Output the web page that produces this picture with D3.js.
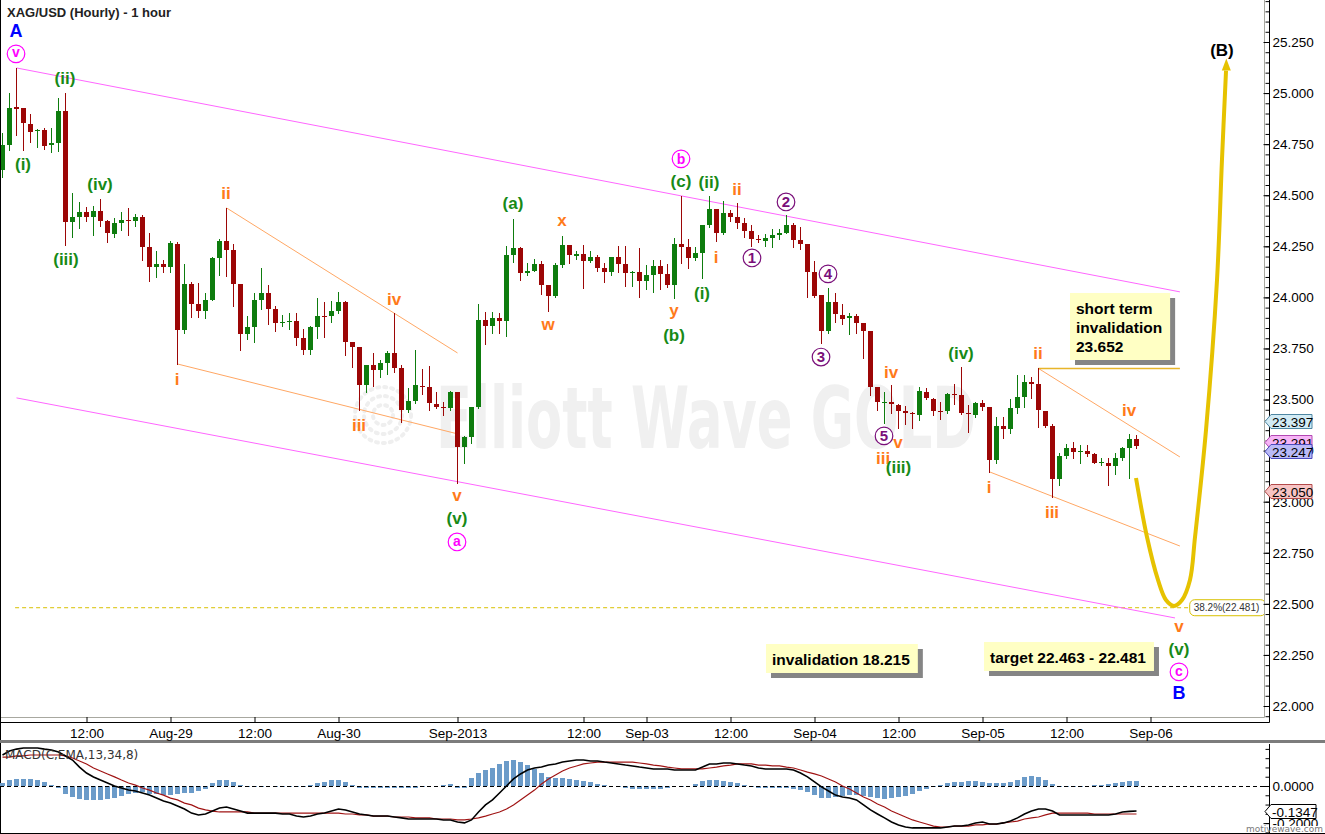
<!DOCTYPE html>
<html>
<head>
<meta charset="utf-8">
<title>XAG/USD (Hourly) - 1 hour</title>
<script src="https://cdnjs.cloudflare.com/ajax/libs/d3/7.8.5/d3.min.js"></script>
<style>
html,body{margin:0;padding:0;background:#ffffff;overflow:hidden;}
svg{display:block;font-family:"Liberation Sans",Arial,sans-serif;}
</style>
</head>
<body>
<svg id="chart" width="1325" height="834"></svg>
<script>
// ---------------- DATA ----------------
const titleText = "XAG/USD (Hourly) - 1 hour";
const macdTitle = "MACD(C,EMA,13,34,8)";
const watermarkText = "Elliott Wave GOLD";

// time axis: bar index of each labelled tick
const tickBars = [12, 24, 36, 48, 65, 83, 92, 104, 116, 128, 140, 152, 164];
const tickLabels = ["12:00","Aug-29","12:00","Aug-30","Sep-2013","12:00","Sep-03","12:00","Sep-04","12:00","Sep-05","12:00","Sep-06"];

const priceTicks = [22.0, 22.25, 22.5, 22.75, 23.0, 23.25, 23.5, 23.75, 24.0, 24.25, 24.5, 24.75, 25.0, 25.25];
const macdTicks = [0, -0.2];

// hourly OHLC (bar 0 = Aug-28 00:00)
const open = [
24.624,24.746,24.932,24.927,24.849,24.815,24.820,24.746,24.756,24.913,
24.369,24.394,24.418,24.394,24.423,24.374,24.311,24.364,24.379,24.374,
24.394,24.247,24.149,24.164,24.149,24.262,23.841,24.066,23.968,23.934,
23.988,24.193,24.276,24.232,24.066,23.821,23.855,23.988,24.022,23.943,
23.875,23.880,23.885,23.802,23.743,23.855,23.909,23.909,23.934,23.978,
23.782,23.757,23.571,23.669,23.645,23.679,23.728,23.655,23.449,23.493,
23.567,23.562,23.478,23.464,23.459,23.537,23.268,23.317,23.464,23.890,
23.860,23.899,23.885,24.208,24.242,24.120,24.130,24.164,24.061,24.007,
24.159,24.257,24.203,24.213,24.178,24.198,24.144,24.125,24.198,24.164,
24.120,24.125,24.081,24.110,24.154,24.115,24.061,24.262,24.247,24.193,
24.218,24.355,24.433,24.316,24.413,24.394,24.364,24.325,24.286,24.276,
24.291,24.306,24.316,24.355,24.281,24.262,24.125,24.012,23.836,23.978,
23.914,23.899,23.909,23.875,23.836,23.562,23.483,23.488,23.474,23.444,
23.434,23.425,23.537,23.503,23.444,23.444,23.527,23.523,23.434,23.425,
23.483,23.464,23.204,23.371,23.356,23.459,23.513,23.586,23.576,23.444,
23.371,23.111,23.224,23.263,23.244,23.248,23.234,23.190,23.190,23.175,
23.214,23.263,23.307];
const high = [
24.805,25.001,25.123,24.927,24.898,24.825,24.829,24.829,24.976,25.001,
24.511,24.467,24.443,24.448,24.482,24.379,24.389,24.418,24.438,24.409,
24.404,24.316,24.227,24.183,24.276,24.271,24.164,24.076,24.071,24.022,
24.198,24.286,24.438,24.262,24.066,23.909,24.022,24.144,24.061,23.958,
23.914,23.924,23.924,23.846,23.860,23.997,23.978,23.983,24.027,23.983,
23.782,23.757,23.669,23.728,23.694,23.738,23.924,23.669,23.557,23.743,
23.650,23.664,23.537,23.488,23.542,23.537,23.322,23.464,23.968,23.929,
23.929,23.924,24.252,24.384,24.247,24.169,24.188,24.178,24.061,24.169,
24.301,24.257,24.227,24.257,24.227,24.208,24.169,24.198,24.252,24.252,
24.130,24.242,24.159,24.183,24.183,24.164,24.291,24.497,24.286,24.247,
24.355,24.497,24.433,24.472,24.428,24.462,24.389,24.355,24.306,24.311,
24.335,24.335,24.404,24.364,24.345,24.262,24.178,24.012,24.046,24.022,
23.968,23.924,23.919,23.875,23.836,23.562,23.537,23.571,23.478,23.469,
23.439,23.562,23.557,23.508,23.488,23.532,23.576,23.660,23.474,23.488,
23.498,23.464,23.415,23.415,23.503,23.620,23.620,23.611,23.652,23.444,
23.381,23.239,23.283,23.292,23.278,23.278,23.239,23.214,23.214,23.239,
23.268,23.332,23.327];
const low = [
24.590,24.722,24.795,24.722,24.761,24.736,24.727,24.712,24.717,24.257,
24.296,24.340,24.374,24.306,24.350,24.271,24.296,24.330,24.306,24.350,
24.183,24.081,24.100,24.125,24.125,23.674,23.826,23.904,23.904,23.899,
23.988,24.110,24.105,23.958,23.743,23.797,23.782,23.943,23.870,23.836,
23.860,23.846,23.767,23.723,23.723,23.802,23.806,23.880,23.924,23.718,
23.660,23.449,23.537,23.567,23.611,23.625,23.635,23.390,23.439,23.483,
23.527,23.449,23.459,23.425,23.449,23.092,23.190,23.288,23.459,23.772,
23.826,23.826,23.811,24.174,24.085,24.110,24.130,24.017,23.934,24.002,
24.149,24.169,24.188,24.046,24.174,24.130,24.076,24.110,24.125,24.056,
24.056,24.002,24.041,24.027,24.041,24.051,23.997,24.169,24.144,24.183,
24.095,24.345,24.276,24.311,24.374,24.340,24.296,24.252,24.271,24.252,
24.247,24.286,24.316,24.247,24.237,24.002,24.002,23.777,23.826,23.880,
23.870,23.821,23.826,23.704,23.523,23.449,23.385,23.434,23.361,23.381,
23.361,23.400,23.503,23.425,23.405,23.434,23.478,23.430,23.341,23.415,
23.449,23.146,23.190,23.312,23.337,23.434,23.464,23.508,23.366,23.366,
23.023,23.082,23.214,23.214,23.190,23.224,23.190,23.180,23.082,23.136,
23.204,23.116,23.263];
const close = [
24.746,24.927,24.922,24.854,24.810,24.820,24.741,24.756,24.913,24.369,
24.394,24.418,24.394,24.423,24.374,24.316,24.364,24.379,24.374,24.394,
24.247,24.149,24.164,24.149,24.267,23.841,24.066,23.968,23.934,23.988,
24.193,24.276,24.232,24.066,23.821,23.855,23.988,24.022,23.943,23.875,
23.880,23.885,23.802,23.743,23.855,23.909,23.904,23.934,23.978,23.782,
23.757,23.571,23.669,23.645,23.679,23.728,23.655,23.449,23.493,23.571,
23.562,23.483,23.464,23.459,23.537,23.268,23.317,23.464,23.890,23.860,
23.899,23.885,24.208,24.242,24.120,24.130,24.164,24.061,24.007,24.159,
24.257,24.208,24.213,24.178,24.198,24.144,24.125,24.198,24.164,24.120,
24.125,24.081,24.110,24.154,24.115,24.061,24.262,24.247,24.193,24.218,
24.355,24.433,24.316,24.413,24.394,24.364,24.325,24.286,24.281,24.291,
24.306,24.316,24.355,24.281,24.262,24.125,24.007,23.836,23.978,23.919,
23.895,23.909,23.875,23.836,23.562,23.488,23.488,23.478,23.444,23.434,
23.430,23.542,23.508,23.444,23.439,23.527,23.523,23.434,23.430,23.483,
23.464,23.204,23.371,23.356,23.459,23.513,23.586,23.576,23.449,23.371,
23.111,23.224,23.263,23.244,23.248,23.234,23.190,23.195,23.175,23.214,
23.263,23.307,23.273];

// MACD(13,34,8) panel values
const macdLine = [
0.167,0.189,0.199,0.205,0.205,0.205,0.199,0.194,0.183,0.162,
0.140,0.102,0.070,0.049,0.032,0.016,0.000,-0.011,-0.022,-0.027,
-0.038,-0.049,-0.065,-0.081,-0.092,-0.108,-0.124,-0.146,-0.156,-0.151,
-0.135,-0.119,-0.113,-0.124,-0.135,-0.146,-0.146,-0.146,-0.146,-0.146,
-0.151,-0.151,-0.162,-0.167,-0.162,-0.151,-0.146,-0.135,-0.124,-0.129,
-0.140,-0.151,-0.156,-0.162,-0.162,-0.162,-0.167,-0.172,-0.178,-0.178,
-0.178,-0.178,-0.178,-0.183,-0.183,-0.194,-0.199,-0.183,-0.140,-0.102,
-0.075,-0.038,0.000,0.038,0.065,0.086,0.097,0.102,0.113,0.119,
0.129,0.135,0.140,0.140,0.135,0.135,0.129,0.124,0.119,0.113,
0.108,0.102,0.097,0.092,0.092,0.092,0.086,0.086,0.086,0.086,
0.102,0.119,0.119,0.124,0.124,0.119,0.113,0.108,0.097,0.092,
0.092,0.092,0.092,0.086,0.070,0.049,0.022,-0.005,-0.027,-0.049,
-0.059,-0.065,-0.075,-0.102,-0.129,-0.151,-0.172,-0.194,-0.210,-0.221,
-0.226,-0.226,-0.226,-0.226,-0.226,-0.221,-0.216,-0.216,-0.210,-0.199,
-0.194,-0.205,-0.205,-0.199,-0.189,-0.172,-0.151,-0.135,-0.124,-0.124,
-0.135,-0.156,-0.156,-0.156,-0.156,-0.156,-0.156,-0.156,-0.156,-0.151,
-0.140,-0.137,-0.1347];
const signalLine = [
0.156,0.156,0.162,0.162,0.167,0.167,0.167,0.167,0.167,0.162,
0.151,0.135,0.119,0.097,0.081,0.065,0.049,0.032,0.016,0.005,
-0.011,-0.022,-0.038,-0.049,-0.065,-0.075,-0.092,-0.102,-0.119,-0.129,
-0.135,-0.140,-0.140,-0.140,-0.140,-0.140,-0.146,-0.146,-0.146,-0.146,
-0.146,-0.146,-0.146,-0.146,-0.146,-0.146,-0.146,-0.146,-0.146,-0.151,
-0.151,-0.156,-0.156,-0.162,-0.162,-0.162,-0.167,-0.167,-0.167,-0.172,
-0.172,-0.172,-0.178,-0.178,-0.178,-0.183,-0.183,-0.178,-0.172,-0.162,
-0.151,-0.140,-0.124,-0.102,-0.075,-0.049,-0.022,0.011,0.038,0.059,
0.081,0.097,0.108,0.119,0.124,0.129,0.129,0.129,0.129,0.129,
0.129,0.124,0.119,0.113,0.108,0.102,0.097,0.092,0.092,0.092,
0.092,0.097,0.102,0.108,0.113,0.119,0.119,0.119,0.113,0.113,
0.108,0.108,0.102,0.097,0.086,0.075,0.065,0.054,0.038,0.022,
0.000,-0.016,-0.038,-0.059,-0.075,-0.097,-0.113,-0.135,-0.151,-0.167,
-0.183,-0.194,-0.205,-0.216,-0.221,-0.221,-0.216,-0.216,-0.216,-0.210,
-0.210,-0.205,-0.205,-0.199,-0.194,-0.189,-0.178,-0.172,-0.167,-0.156,
-0.146,-0.146,-0.146,-0.146,-0.146,-0.146,-0.151,-0.151,-0.151,-0.151,
-0.151,-0.151,-0.151];
const histValues = [
0.016,0.032,0.038,0.038,0.038,0.032,0.022,0.005,-0.011,-0.043,
-0.059,-0.070,-0.075,-0.075,-0.075,-0.070,-0.065,-0.054,-0.043,-0.038,
-0.032,-0.043,-0.043,-0.049,-0.049,-0.043,-0.038,-0.038,-0.027,-0.016,
0.016,0.032,0.032,0.022,0.005,-0.005,-0.005,-0.005,0.000,-0.005,
-0.005,-0.005,-0.005,-0.005,0.005,0.016,0.022,0.032,0.032,0.022,
0.005,-0.011,-0.011,-0.011,-0.011,-0.011,-0.011,-0.011,-0.011,-0.011,
-0.005,0.000,0.000,0.005,0.011,-0.011,-0.011,0.043,0.070,0.086,
0.097,0.119,0.135,0.140,0.129,0.113,0.092,0.070,0.049,0.043,
0.043,0.038,0.032,0.027,0.022,0.011,0.005,0.000,-0.005,-0.011,
-0.016,-0.016,-0.016,-0.016,-0.016,-0.011,0.000,-0.005,0.000,0.011,
0.027,0.032,0.032,0.027,0.022,0.016,0.005,-0.005,-0.011,-0.011,
-0.011,-0.011,-0.011,-0.016,-0.022,-0.032,-0.049,-0.065,-0.065,-0.059,
-0.054,-0.049,-0.049,-0.054,-0.059,-0.065,-0.070,-0.065,-0.059,-0.054,
-0.043,-0.027,-0.016,-0.005,0.005,0.016,0.022,0.022,0.027,0.027,
0.022,0.016,0.016,0.016,0.022,0.032,0.049,0.054,0.049,0.032,
0.011,-0.005,-0.005,-0.005,-0.005,0.000,0.005,0.005,0.011,0.016,
0.022,0.027,0.027];

// trend channel / wedge lines as [bar, price] pairs
const channelUpper = [[2, 25.123], [168.2, 24.027]];
const channelLower = [[2, 23.508], [167.5, 22.431]];
const wedgeLines = [
  [[32, 24.438], [65, 23.728]],
  [[25, 23.674], [65, 23.332]],
  [[148, 23.652], [168.2, 23.219]],
  [[141, 23.146], [168.2, 22.783]]
];
const shortInvalidation = [[148, 23.652], [168.2, 23.652]];
const fibLevel = {label: "38.2%(22.481)", value: 22.481, from: 1.8, to: 169.6};
// projected path for wave (v) down then (B) up
const projection = [
  [161.93, 23.116], [163.5, 22.827], [165.07, 22.617], [166.21, 22.519], [167.36, 22.490],
  [168.5, 22.519], [169.64, 22.617], [170.36, 22.827], [171.93, 23.351], [173.5, 24.085],
  [174.21, 24.673], [174.79, 25.110]
];

// Elliott wave labels: text, bar, price, degree
const waveLabels = [
  {t:"A", i:1.93, p:25.304, d:"blue"},
  {t:"v", i:1.93, p:25.192, d:"mag"},
  {t:"(i)", i:2.93, p:24.648, d:"grn"},
  {t:"(ii)", i:8.93, p:25.069, d:"grn"},
  {t:"(iii)", i:9.07, p:24.183, d:"grn"},
  {t:"(iv)", i:13.93, p:24.550, d:"grn"},
  {t:"ii", i:31.93, p:24.511, d:"org"},
  {t:"i", i:24.93, p:23.601, d:"org"},
  {t:"iv", i:55.93, p:23.992, d:"org"},
  {t:"iii", i:50.93, p:23.376, d:"org"},
  {t:"v", i:64.93, p:23.023, d:"org"},
  {t:"(v)", i:64.93, p:22.911, d:"grn"},
  {t:"a", i:64.93, p:22.803, d:"mag"},
  {t:"(a)", i:72.93, p:24.453, d:"grn"},
  {t:"x", i:79.93, p:24.369, d:"org"},
  {t:"w", i:77.93, p:23.860, d:"org"},
  {t:"b", i:96.93, p:24.678, d:"mag"},
  {t:"(c)", i:96.93, p:24.565, d:"grn"},
  {t:"(ii)", i:100.93, p:24.560, d:"grn"},
  {t:"ii", i:104.93, p:24.531, d:"org"},
  {t:"i", i:101.93, p:24.198, d:"org"},
  {t:"(i)", i:99.93, p:24.017, d:"grn"},
  {t:"y", i:95.93, p:23.919, d:"org"},
  {t:"(b)", i:95.93, p:23.811, d:"grn"},
  {t:"2", i:111.93, p:24.467, d:"pur"},
  {t:"1", i:107.07, p:24.193, d:"pur"},
  {t:"4", i:117.93, p:24.115, d:"pur"},
  {t:"3", i:116.93, p:23.708, d:"pur"},
  {t:"iv", i:126.93, p:23.635, d:"org"},
  {t:"5", i:125.93, p:23.322, d:"pur"},
  {t:"v", i:127.93, p:23.283, d:"org"},
  {t:"iii", i:125.79, p:23.214, d:"org"},
  {t:"(iii)", i:128.0, p:23.165, d:"grn"},
  {t:"(iv)", i:136.93, p:23.723, d:"grn"},
  {t:"ii", i:147.93, p:23.728, d:"org"},
  {t:"i", i:140.93, p:23.072, d:"org"},
  {t:"iii", i:149.93, p:22.950, d:"org"},
  {t:"iv", i:160.93, p:23.449, d:"org"},
  {t:"v", i:168.07, p:22.382, d:"org"},
  {t:"(v)", i:168.07, p:22.274, d:"grn"},
  {t:"c", i:168.07, p:22.167, d:"mag"},
  {t:"B", i:168.07, p:22.064, d:"blue"},
  {t:"(B)", i:174.21, p:25.206, d:"blk"}
];

// note boxes: lines, anchor bar, anchor price (top-left)
const noteBoxes = [
  {lines:["short term","invalidation","23.652"], i:152.5, p:24.022},
  {lines:["invalidation 18.215"], i:109.07, p:22.304},
  {lines:["target 22.463 - 22.481"], i:140.21, p:22.313}
];

// value tags on the price axis
const tagValues = [23.397, 23.291, 23.247, 23.050];

// ---------------- DRAWING ----------------
const svg = d3.select("#chart");
const PR = 1264, PB = 717, AX = 1269, AB = 722, MT = 744, MB = 833;

const x = d3.scaleLinear().domain([0, 1]).range([2.5, 9.5]);
const y = d3.scaleLinear().domain([22, 25.25]).range([706, 42]);
const yM = d3.scaleLinear().domain([-0.2, 0.2]).range([823.1, 748.9]);

const defs = svg.append("defs");
defs.append("clipPath").attr("id", "clipP").append("rect")
  .attr("x", 0).attr("y", 0).attr("width", PR).attr("height", PB);
defs.append("clipPath").attr("id", "clipM").append("rect")
  .attr("x", 0).attr("y", MT).attr("width", PR).attr("height", MB - MT);

svg.append("rect").attr("width", 1325).attr("height", 834).attr("fill", "#ffffff");

const gP = svg.append("g").attr("clip-path", "url(#clipP)");

// watermark
const wm = gP.append("g");
[10, 19, 28].forEach(r => {
  wm.append("circle").attr("cx", 383).attr("cy", 415).attr("r", r)
    .attr("fill", "none").attr("stroke", "#efefef").attr("stroke-width", 4)
    .attr("stroke-dasharray", "2,5").attr("stroke-linecap", "round");
});
wm.append("text").attr("x", 436).attr("y", 448)
  .attr("textLength", 540).attr("lengthAdjust", "spacingAndGlyphs")
  .style("font-family", "'Liberation Sans Narrow','DejaVu Sans Condensed',Arial,sans-serif")
  .style("font-weight", "bold").style("font-size", "86px")
  .attr("fill", "#f0f0f0").text(watermarkText);

const line = d3.line().x(d => x(d[0])).y(d => y(d[1]));

// fib dashed line
gP.append("path").datum([[fibLevel.from, fibLevel.value], [fibLevel.to, fibLevel.value]])
  .attr("d", line).attr("fill", "none").attr("stroke", "#d8c000").attr("stroke-width", 1)
  .attr("stroke-dasharray", "4,3");

// channel lines
gP.selectAll("path.chan").data([channelUpper, channelLower]).join("path")
  .attr("class", "chan").attr("d", line).attr("fill", "none")
  .attr("stroke", "#ff66ff").attr("stroke-width", 1);

// wedge lines
gP.selectAll("path.wedge").data(wedgeLines).join("path")
  .attr("class", "wedge").attr("d", line).attr("fill", "none")
  .attr("stroke", "#ffa764").attr("stroke-width", 1);

// short-term invalidation level
gP.append("path").datum(shortInvalidation).attr("d", line)
  .attr("fill", "none").attr("stroke", "#e8b52a").attr("stroke-width", 1.3);

// candles
const bars = d3.range(open.length).map(i => ({i, o: open[i], h: high[i], l: low[i], c: close[i]}));
const up = "#0e7c0e", dn = "#9c0606";
const cg = gP.append("g");
cg.selectAll("line").data(bars).join("line")
  .attr("x1", d => Math.floor(x(d.i)) + 0.5).attr("x2", d => Math.floor(x(d.i)) + 0.5)
  .attr("y1", d => Math.round(y(d.h))).attr("y2", d => Math.round(y(d.l)) + 1)
  .attr("stroke", d => d.c >= d.o ? up : dn).attr("stroke-width", 1);
cg.selectAll("rect").data(bars).join("rect")
  .attr("x", d => Math.floor(x(d.i)) - 2).attr("width", 5)
  .attr("y", d => Math.round(y(Math.max(d.o, d.c))))
  .attr("height", d => Math.max(1, Math.round(y(Math.min(d.o, d.c))) - Math.round(y(Math.max(d.o, d.c)))))
  .attr("fill", d => d.c >= d.o ? up : dn);

// projection curve
gP.append("path").datum(projection)
  .attr("d", d3.line().x(d => x(d[0])).y(d => y(d[1])).curve(d3.curveCatmullRom.alpha(0.5)))
  .attr("fill", "none").attr("stroke", "#e6c200").attr("stroke-width", 4).attr("stroke-linecap", "butt");
const tip = projection[projection.length - 1];
const tx = x(tip[0]) + 0.3, ty = y(tip[1]) - 12;
gP.append("path")
  .attr("d", `M${tx},${ty} L${tx - 4.5},${ty + 12} L${tx + 4.5},${ty + 12} Z`)
  .attr("fill", "#e6c200");

// fib label
const fx = x(fibLevel.to), fy = y(fibLevel.value);
gP.append("rect").attr("x", fx).attr("y", fy - 8).attr("width", 76).attr("height", 16).attr("rx", 5)
  .attr("fill", "#ffffff").attr("stroke", "#d8c000");
gP.append("text").attr("x", fx + 4).attr("y", fy + 3.5).text(fibLevel.label)
  .style("font-family", "'Liberation Sans',Arial,sans-serif").style("font-size", "10px").attr("fill", "#333");

// wave labels
const styles = {
  blue: {fill: "#0000ff", size: 18},
  blk: {fill: "#000000", size: 17},
  grn: {fill: "#178a17", size: 17},
  org: {fill: "#ff7a1a", size: 17},
  mag: {fill: "#ff00ff", size: 14, circle: true},
  pur: {fill: "#7a0f7a", size: 15, circle: true}
};
function vOff(t) {
  if (/[()]/.test(t)) return 0.27;
  if (/^[vwxac]$/.test(t)) return 0.26;
  if (t === "y") return 0.15;
  return 0.36;
}
const lg = gP.append("g");
waveLabels.forEach(L => {
  const s = styles[L.d];
  const cx = x(L.i), cy = y(L.p);
  if (s.circle) {
    lg.append("circle").attr("cx", cx).attr("cy", cy).attr("r", 8.8)
      .attr("fill", "#ffffff").attr("stroke", s.fill).attr("stroke-width", 1.2);
  }
  lg.append("text").attr("x", cx).attr("y", cy + vOff(L.t) * s.size)
    .attr("text-anchor", "middle").style("font-weight", "bold")
    .style("font-size", s.size + "px").attr("fill", s.fill).text(L.t);
});

// note boxes
const nb = gP.append("g");
noteBoxes.forEach(B => {
  const bx = Math.round(x(B.i)), by = Math.round(y(B.p));
  const fs = 15.5;
  const tmp = nb.append("g");
  const texts = B.lines.map((t, k) => tmp.append("text").attr("x", bx + 6)
    .attr("y", by + 20.5 + k * 19).style("font-weight", "bold").style("font-size", fs + "px")
    .attr("fill", "#000").text(t));
  const w = d3.max(texts, t => t.node().getComputedTextLength()) + 14;
  const h = B.lines.length * 19 + 10;
  nb.insert("rect", () => tmp.node()).attr("x", bx + 5).attr("y", by + 5).attr("width", w).attr("height", h).attr("fill", "#858585");
  nb.insert("rect", () => tmp.node()).attr("x", bx).attr("y", by).attr("width", w).attr("height", h).attr("fill", "#ffffc4");
});

// ---------- frame lines ----------
svg.append("line").attr("x1", PR + 0.5).attr("x2", PR + 0.5).attr("y1", 0).attr("y2", PB + 0.5).attr("stroke", "#a8a8a0");
svg.append("line").attr("x1", 0).attr("x2", PR + 0.5).attr("y1", PB + 0.5).attr("y2", PB + 0.5).attr("stroke", "#a8a8a0");
svg.append("line").attr("x1", AX + 0.5).attr("x2", AX + 0.5).attr("y1", 0).attr("y2", AB + 0.5).attr("stroke", "#000");
svg.append("line").attr("x1", 0).attr("x2", AX + 0.5).attr("y1", AB + 0.5).attr("y2", AB + 0.5).attr("stroke", "#000");
svg.append("line").attr("x1", 0.5).attr("x2", 0.5).attr("y1", 0).attr("y2", 834).attr("stroke", "#000");
svg.append("rect").attr("x", 0).attr("y", 740).attr("width", 1325).attr("height", 3).attr("fill", "#7c7c7c");
svg.append("line").attr("x1", 0).attr("x2", 1325).attr("y1", MB + 0.5).attr("y2", MB + 0.5).attr("stroke", "#000");
svg.append("line").attr("x1", AX + 0.5).attr("x2", AX + 0.5).attr("y1", MT).attr("y2", MB).attr("stroke", "#000");

// ---------- price axis ----------
const axisFont = "'Liberation Sans',Arial,sans-serif";
const gA = svg.append("g").attr("transform", `translate(${AX + 0.5},0)`);
const minorP = d3.range(21.95, 25.5, 0.05).filter(v => y(v) >= 0 && y(v) <= PB);
gA.append("g").call(d3.axisRight(y).tickValues(minorP).tickSizeInner(-4).tickSizeOuter(0).tickFormat(""))
  .call(g => g.select(".domain").remove());
gA.append("g").call(d3.axisRight(y).tickValues(priceTicks).tickSizeInner(-6).tickSizeOuter(0).tickPadding(3)
    .tickFormat(d => d.toFixed(3)))
  .call(g => g.select(".domain").remove())
  .call(g => g.selectAll("text").style("font-family", axisFont).style("font-size", "13.5px").attr("fill", "#000"));

// value tags
const tagFill = ["#d2ebf5", "#f6b5f6", "#babaf7", "#f7c4c4"];
const tagStroke = ["#4f87a3", "#b347b3", "#4b4bbd", "#b34b4b"];
tagValues.forEach((v, k) => {
  const ty2 = Math.round(y(v)) + 0.5;
  svg.append("path")
    .attr("d", `M${PR + 1},${ty2} L${PR + 7},${ty2 - 7} L${PR + 48},${ty2 - 7} L${PR + 48},${ty2 + 7} L${PR + 7},${ty2 + 7} Z`)
    .attr("fill", tagFill[k]).attr("stroke", tagStroke[k]);
  svg.append("text").attr("x", PR + 8).attr("y", ty2 + 5).text(v.toFixed(3))
    .style("font-family", axisFont).style("font-size", "13.5px").attr("fill", "#000");
});

// ---------- time axis ----------
const gT = svg.append("g").attr("transform", `translate(0,${PB})`);
gT.call(d3.axisBottom(x).tickValues(tickBars).tickFormat((d, k) => tickLabels[k])
    .tickSizeInner(5).tickSizeOuter(0).tickPadding(6))
  .call(g => g.select(".domain").remove())
  .call(g => g.selectAll("text").style("font-family", axisFont).style("font-size", "13.5px").attr("fill", "#000"));

// ---------- MACD panel ----------
const gM = svg.append("g").attr("clip-path", "url(#clipM)");
gM.selectAll("rect.h").data(histValues).join("rect").attr("class", "h")
  .attr("x", (d, i) => Math.floor(x(i)) - 2).attr("width", 5)
  .attr("y", d => Math.round(yM(Math.max(0, d))))
  .attr("height", d => Math.max(d === 0 ? 0 : 1, Math.abs(Math.round(yM(d)) - Math.round(yM(0)))))
  .attr("fill", "#6b9bc9");
gM.append("line").attr("x1", 0).attr("x2", PR).attr("y1", Math.round(yM(0)) + 0.5).attr("y2", Math.round(yM(0)) + 0.5)
  .attr("stroke", "#000").attr("stroke-dasharray", "4,3");
const lineM = d3.line().x((d, i) => x(i)).y(d => yM(d));
gM.append("path").datum(signalLine).attr("d", lineM).attr("fill", "none").attr("stroke", "#a01414").attr("stroke-width", 1.2);
gM.append("path").datum(macdLine).attr("d", lineM).attr("fill", "none").attr("stroke", "#000").attr("stroke-width", 1.6);
gM.append("text").attr("x", 5).attr("y", 759).text(macdTitle)
  .style("font-family", "'DejaVu Sans',sans-serif").style("font-size", "12px").attr("fill", "#333");

const gMA = svg.append("g").attr("transform", `translate(${AX + 0.5},0)`);
const minorM = d3.range(-0.25, 0.25, 0.05).filter(v => yM(v) >= MT && yM(v) <= MB);
gMA.append("g").call(d3.axisRight(yM).tickValues(minorM).tickSizeInner(-4).tickSizeOuter(0).tickFormat(""))
  .call(g => g.select(".domain").remove());
gMA.append("g").call(d3.axisRight(yM).tickValues(macdTicks).tickSizeInner(-6).tickSizeOuter(0).tickPadding(3)
    .tickFormat(d => d.toFixed(4)))
  .call(g => g.select(".domain").remove())
  .call(g => g.selectAll("text").style("font-family", axisFont).style("font-size", "13.5px").attr("fill", "#000"));

// last MACD tag
const lastM = macdLine[macdLine.length - 1];
const my = Math.round(yM(lastM)) + 0.5;
svg.append("path")
  .attr("d", `M${PR + 1},${my} L${PR + 7},${my - 7} L${PR + 52},${my - 7} L${PR + 52},${my + 7} L${PR + 7},${my + 7} Z`)
  .attr("fill", "#ffffff").attr("stroke", "#000");
svg.append("text").attr("x", PR + 8).attr("y", my + 5).text(lastM.toFixed(4))
  .style("font-family", axisFont).style("font-size", "13.5px").attr("fill", "#000");

// watermark link
svg.append("rect").attr("x", AX + 1).attr("y", 826).attr("width", 56).attr("height", 7).attr("fill", "#ffffff");
svg.append("text").attr("x", 1323).attr("y", 832).attr("text-anchor", "end").text("motivewave.com")
  .style("font-family", "'DejaVu Sans',sans-serif").style("font-size", "9px").attr("fill", "#7a7a7a");

// title
svg.append("text").attr("x", 7).attr("y", 17).text(titleText)
  .style("font-weight", "bold").style("font-size", "13px").attr("fill", "#222");
</script>
</body>
</html>
